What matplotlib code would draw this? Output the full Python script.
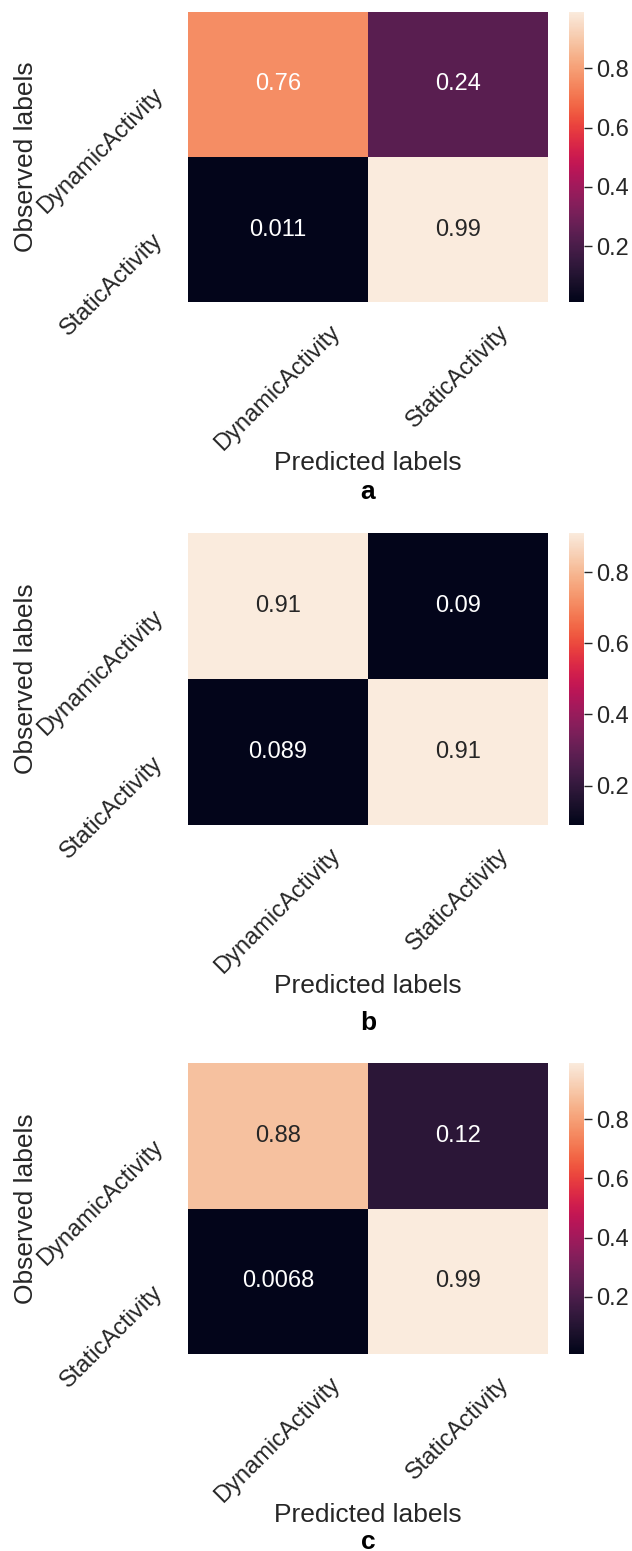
"""
Normalised confusion matrices for the three activity classifiers
"""

import numpy as np
import matplotlib.pyplot as plt
import seaborn as sns

class_names = ["DynamicActivity", "StaticActivity"]
cm_a = [[0.76, 0.24], [0.011, 0.99]]
cm_b = [[0.91, 0.09], [0.089, 0.91]]
cm_c = [[0.88, 0.12], [0.0068, 0.99]]
matrices = [cm_a, cm_b, cm_c]
panel_letters = ["a", "b", "c"]

# Layout in pixels (figure is 632 x 1551 at 100 dpi)
W, H = 632, 1551
HM_LEFT, HM_RIGHT = 188, 548
CB_LEFT, CB_RIGHT = 569, 584
panel_tops = [12, 533, 1063]
panel_bottoms = [302, 825, 1354]
letter_offsets = [197, 205, 195]

sns.set_theme(style="white")
plt.rcParams["font.family"] = ["Liberation Sans", "DejaVu Sans"]

fig = plt.figure(figsize=(W / 100, H / 100), dpi=100)


def rect(x0, x1, top, bottom):
    return [x0 / W, 1 - bottom / H, (x1 - x0) / W, (bottom - top) / H]


for cm, letter, top, bottom, off in zip(matrices, panel_letters, panel_tops,
                                        panel_bottoms, letter_offsets):
    ax = fig.add_axes(rect(HM_LEFT, HM_RIGHT, top, bottom))
    cax = fig.add_axes(rect(CB_LEFT, CB_RIGHT, top, bottom))
    sns.heatmap(np.array(cm), annot=True, cmap="rocket", ax=ax, cbar_ax=cax,
                xticklabels=class_names, yticklabels=class_names,
                annot_kws={"size": 17})
    ax.set_xticklabels(class_names, rotation=45, ha="center", fontsize=17)
    ax.set_yticklabels(class_names, rotation=45, ha="right", va="top",
                       fontsize=17)
    ax.tick_params(axis="x", length=0, pad=14)
    ax.tick_params(axis="y", length=0, pad=15)
    cax.tick_params(labelsize=17, length=6, width=1, color=".15", pad=3)

    # axis titles and panel letter
    xc = (HM_LEFT + HM_RIGHT) / 2
    fig.text(xc / W, 1 - (bottom + 168) / H, "Predicted labels",
             ha="center", va="baseline", fontsize=19, color=".15")
    fig.text(33 / W, 1 - ((top + bottom) / 2) / H, "Observed labels",
             ha="center", va="baseline", rotation=90, rotation_mode="anchor",
             fontsize=19, color=".15")
    fig.text(xc / W, 1 - (bottom + off) / H, letter, ha="center",
             va="baseline", fontsize=19, fontweight="bold", color="black")

fig.savefig("out.png", dpi=100)
